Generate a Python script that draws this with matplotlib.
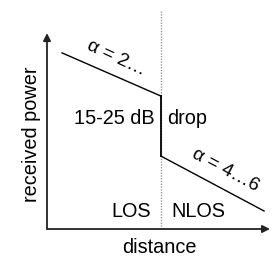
import matplotlib
matplotlib.use("Agg")
import matplotlib.pyplot as plt

plt.rcParams['font.family'] = ['Liberation Sans', 'DejaVu Sans']

# Schematic data (distance in arbitrary units, power in dB above axis origin)
breakpoint_distance = 5.0
los_distance = [0.66, 5.0]
los_power = [58.7, 44.3]
drop_distance = [5.0, 5.0]
drop_power = [44.3, 24.3]
nlos_distance = [5.0, 9.52]
nlos_power = [24.3, 6.0]
x_axis_end = 9.78
y_axis_end = 65.3
divider_top = 73.0

labels = {
    'los_slope': r'α = 2…',
    'nlos_slope': r'α = 4…6',
    'drop_left': '15-25 dB',
    'drop_right': 'drop',
    'los': 'LOS',
    'nlos': 'NLOS',
    'xlabel': 'distance',
    'ylabel': 'received power',
}

fig = plt.figure(figsize=(2.78, 2.58), dpi=100)
ax = fig.add_axes([0, 0, 1, 1])
ax.set_xlim(-47 / 22.8, (278 - 47) / 22.8)
ax.set_ylim(-29 / 3, 229 / 3)
ax.axis('off')

# axes arrows
arrow = dict(arrowstyle='-|>', mutation_scale=11, lw=1.3, color='#222222',
             shrinkA=0, shrinkB=0)
ax.annotate('', xy=(x_axis_end, 0), xytext=(0, 0), arrowprops=arrow)
ax.annotate('', xy=(0, y_axis_end), xytext=(0, 0), arrowprops=arrow)

# divider
ax.plot([breakpoint_distance, breakpoint_distance], [0, divider_top],
        color='#999999', lw=1.0, ls=(0, (1, 1)))

ax.plot(los_distance, los_power, color='black', lw=1.0)
ax.plot(drop_distance, drop_power, color='black', lw=1.3)
ax.plot(nlos_distance, nlos_power, color='black', lw=1.0)

fs = 14.3
ax.text(3.02, 56.8, labels['los_slope'], rotation=-25, fontsize=13.8,
        ha='center', va='center', rotation_mode='anchor')
ax.text(7.82, 19.5, labels['nlos_slope'], rotation=-28, fontsize=13.8,
        ha='center', va='center', rotation_mode='anchor')
ax.text(2.94, 37.0, labels['drop_left'], fontsize=fs, ha='center', va='center')
ax.text(6.14, 37.0, labels['drop_right'], fontsize=fs, ha='center', va='center')
ax.text(3.68, 5.7, labels['los'], fontsize=fs, ha='center', va='center')
ax.text(6.62, 5.7, labels['nlos'], fontsize=fs, ha='center', va='center')
ax.text(4.91, -6.3, labels['xlabel'], fontsize=fs, ha='center', va='center')
ax.text(-0.66, 31.7, labels['ylabel'], fontsize=fs, ha='center', va='center',
        rotation=90)

fig.savefig('out.png', dpi=100)
